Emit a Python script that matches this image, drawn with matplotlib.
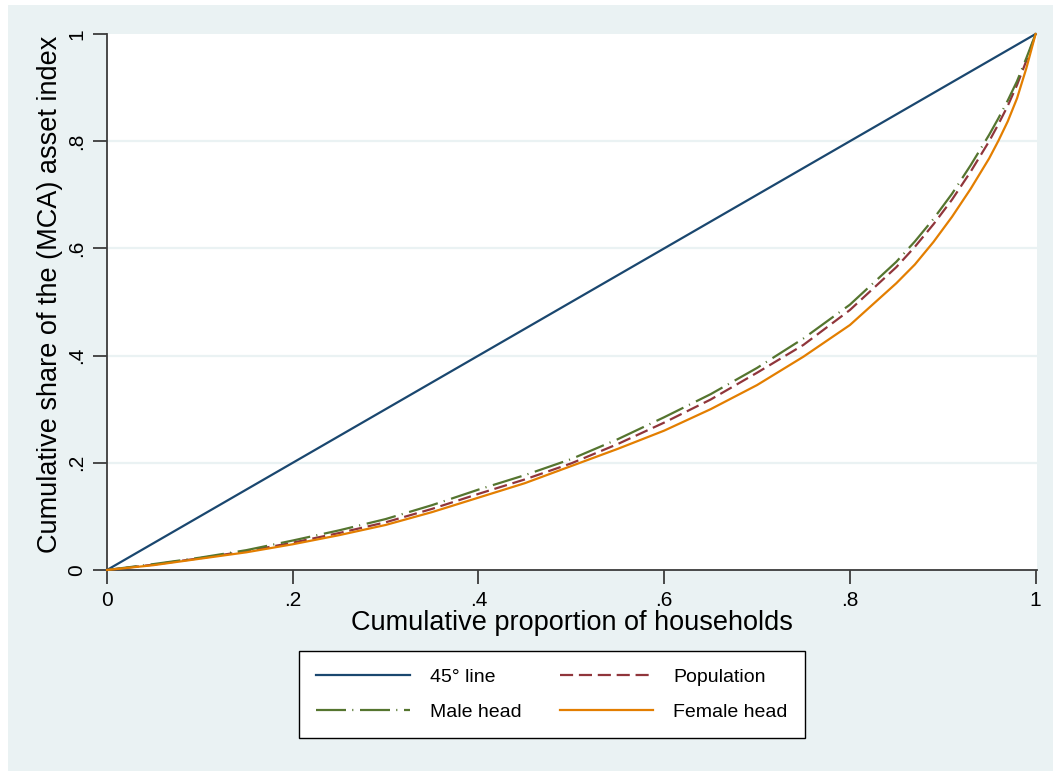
import matplotlib
matplotlib.use("Agg")
import matplotlib.pyplot as plt
from matplotlib.patches import Rectangle

plt.rcParams['font.family'] = ['Liberation Sans', 'DejaVu Sans']

# Cumulative proportion of households (x) and cumulative asset-index share (y)
share_x = [0.0, 0.05, 0.1, 0.15, 0.2, 0.25, 0.3, 0.35, 0.4, 0.45, 0.5, 0.55,
           0.6, 0.65, 0.7, 0.75, 0.8, 0.85, 0.87, 0.89, 0.91, 0.93, 0.95,
           0.96, 0.97, 0.98, 0.99, 1.0]
population = [0.0, 0.010, 0.022, 0.035, 0.051, 0.069, 0.089, 0.114, 0.142,
              0.169, 0.199, 0.235, 0.275, 0.318, 0.368, 0.420, 0.485, 0.565,
              0.603, 0.645, 0.691, 0.743, 0.800, 0.832, 0.866, 0.905, 0.950,
              1.0]
male_head = [0.0, 0.011, 0.023, 0.037, 0.055, 0.074, 0.095, 0.121, 0.150,
             0.177, 0.207, 0.244, 0.285, 0.328, 0.377, 0.432, 0.495, 0.575,
             0.613, 0.655, 0.702, 0.755, 0.812, 0.843, 0.876, 0.912, 0.955,
             1.0]
female_head = [0.0, 0.009, 0.021, 0.033, 0.048, 0.065, 0.084, 0.108, 0.135,
               0.162, 0.194, 0.226, 0.260, 0.300, 0.345, 0.398, 0.457, 0.535,
               0.570, 0.612, 0.659, 0.711, 0.768, 0.801, 0.837, 0.880, 0.936,
               1.0]
equality_x = [0.0, 1.0]
equality_y = [0.0, 1.0]

x_ticks = [0, 0.2, 0.4, 0.6, 0.8, 1.0]
x_tick_labels = ['0', '.2', '.4', '.6', '.8', '1']
y_ticks = [0, 0.2, 0.4, 0.6, 0.8, 1.0]
y_tick_labels = ['0', '.2', '.4', '.6', '.8', '1']

W, H = 1053, 771
BG = '#EAF2F3'
AXCOL = '#3C3C3C'

fig = plt.figure(figsize=(W / 100, H / 100), dpi=100, facecolor=BG)
# thin white margin along the left and top edges
fig.patches.append(Rectangle((0, 0), 8 / W, 1, transform=fig.transFigure,
                             facecolor='white', edgecolor='none', zorder=-10))
fig.patches.append(Rectangle((0, 1 - 5 / H), 1, 5 / H, transform=fig.transFigure,
                             facecolor='white', edgecolor='none', zorder=-10))

left, right, top, bottom = 107, 1037, 34, 570
ax = fig.add_axes([left / W, 1 - bottom / H, (right - left) / W, (bottom - top) / H])
ax.set_facecolor('white')
ax.set_xlim(0, 1.0015)
ax.set_ylim(0, 1.0)

for g in [0.2, 0.4, 0.6, 0.8]:
    ax.axhline(g, color=BG, lw=1.6, zorder=1)

lw = 1.6
ax.plot(equality_x, equality_y, color='#1A476F', lw=lw, label='45° line',
        zorder=3, clip_on=False)
ax.plot(share_x, population, color='#90353B', lw=lw, label='Population',
        dashes=(5.9, 2.6), zorder=3, clip_on=False)
ax.plot(share_x, male_head, color='#55752F', lw=lw, label='Male head',
        dashes=(13.5, 2.8, 0.5, 3.0), zorder=3, clip_on=False)
ax.plot(share_x, female_head, color='#E37E00', lw=lw, label='Female head',
        zorder=3, clip_on=False)

for side in ['top', 'right']:
    ax.spines[side].set_visible(False)
for side in ['left', 'bottom']:
    ax.spines[side].set_color(AXCOL)
    ax.spines[side].set_linewidth(1.3)

ax.set_xticks(x_ticks)
ax.set_xticklabels(x_tick_labels)
ax.set_yticks(y_ticks)
ax.set_yticklabels(y_tick_labels, rotation=90, va='center')
ax.tick_params(axis='both', direction='out', length=10, width=1.3,
               color=AXCOL, labelsize=15, pad=5, labelcolor='black')

ax.set_xlabel('Cumulative proportion of households', fontsize=19.5, labelpad=0)
ax.set_ylabel('Cumulative share of the (MCA) asset index', fontsize=19.5, labelpad=3)
ax.yaxis.label.set_y(0.515)

handles, labels = ax.get_legend_handles_labels()
# column-major fill: first column 45° line / Male head, second Population / Female head
order = [0, 2, 1, 3]
leg = fig.legend([handles[i] for i in order], [labels[i] for i in order],
                 loc='center', bbox_to_anchor=(552 / W, 1 - 694.5 / H),
                 ncol=2, fontsize=14, frameon=True, fancybox=False,
                 edgecolor='black', facecolor='white', framealpha=1,
                 handlelength=4.8, handletextpad=1.05, columnspacing=1.95,
                 labelspacing=0.92, borderpad=0.88)
leg.get_frame().set_linewidth(1.0)

fig.savefig('out.png', dpi=100, facecolor=fig.get_facecolor())
